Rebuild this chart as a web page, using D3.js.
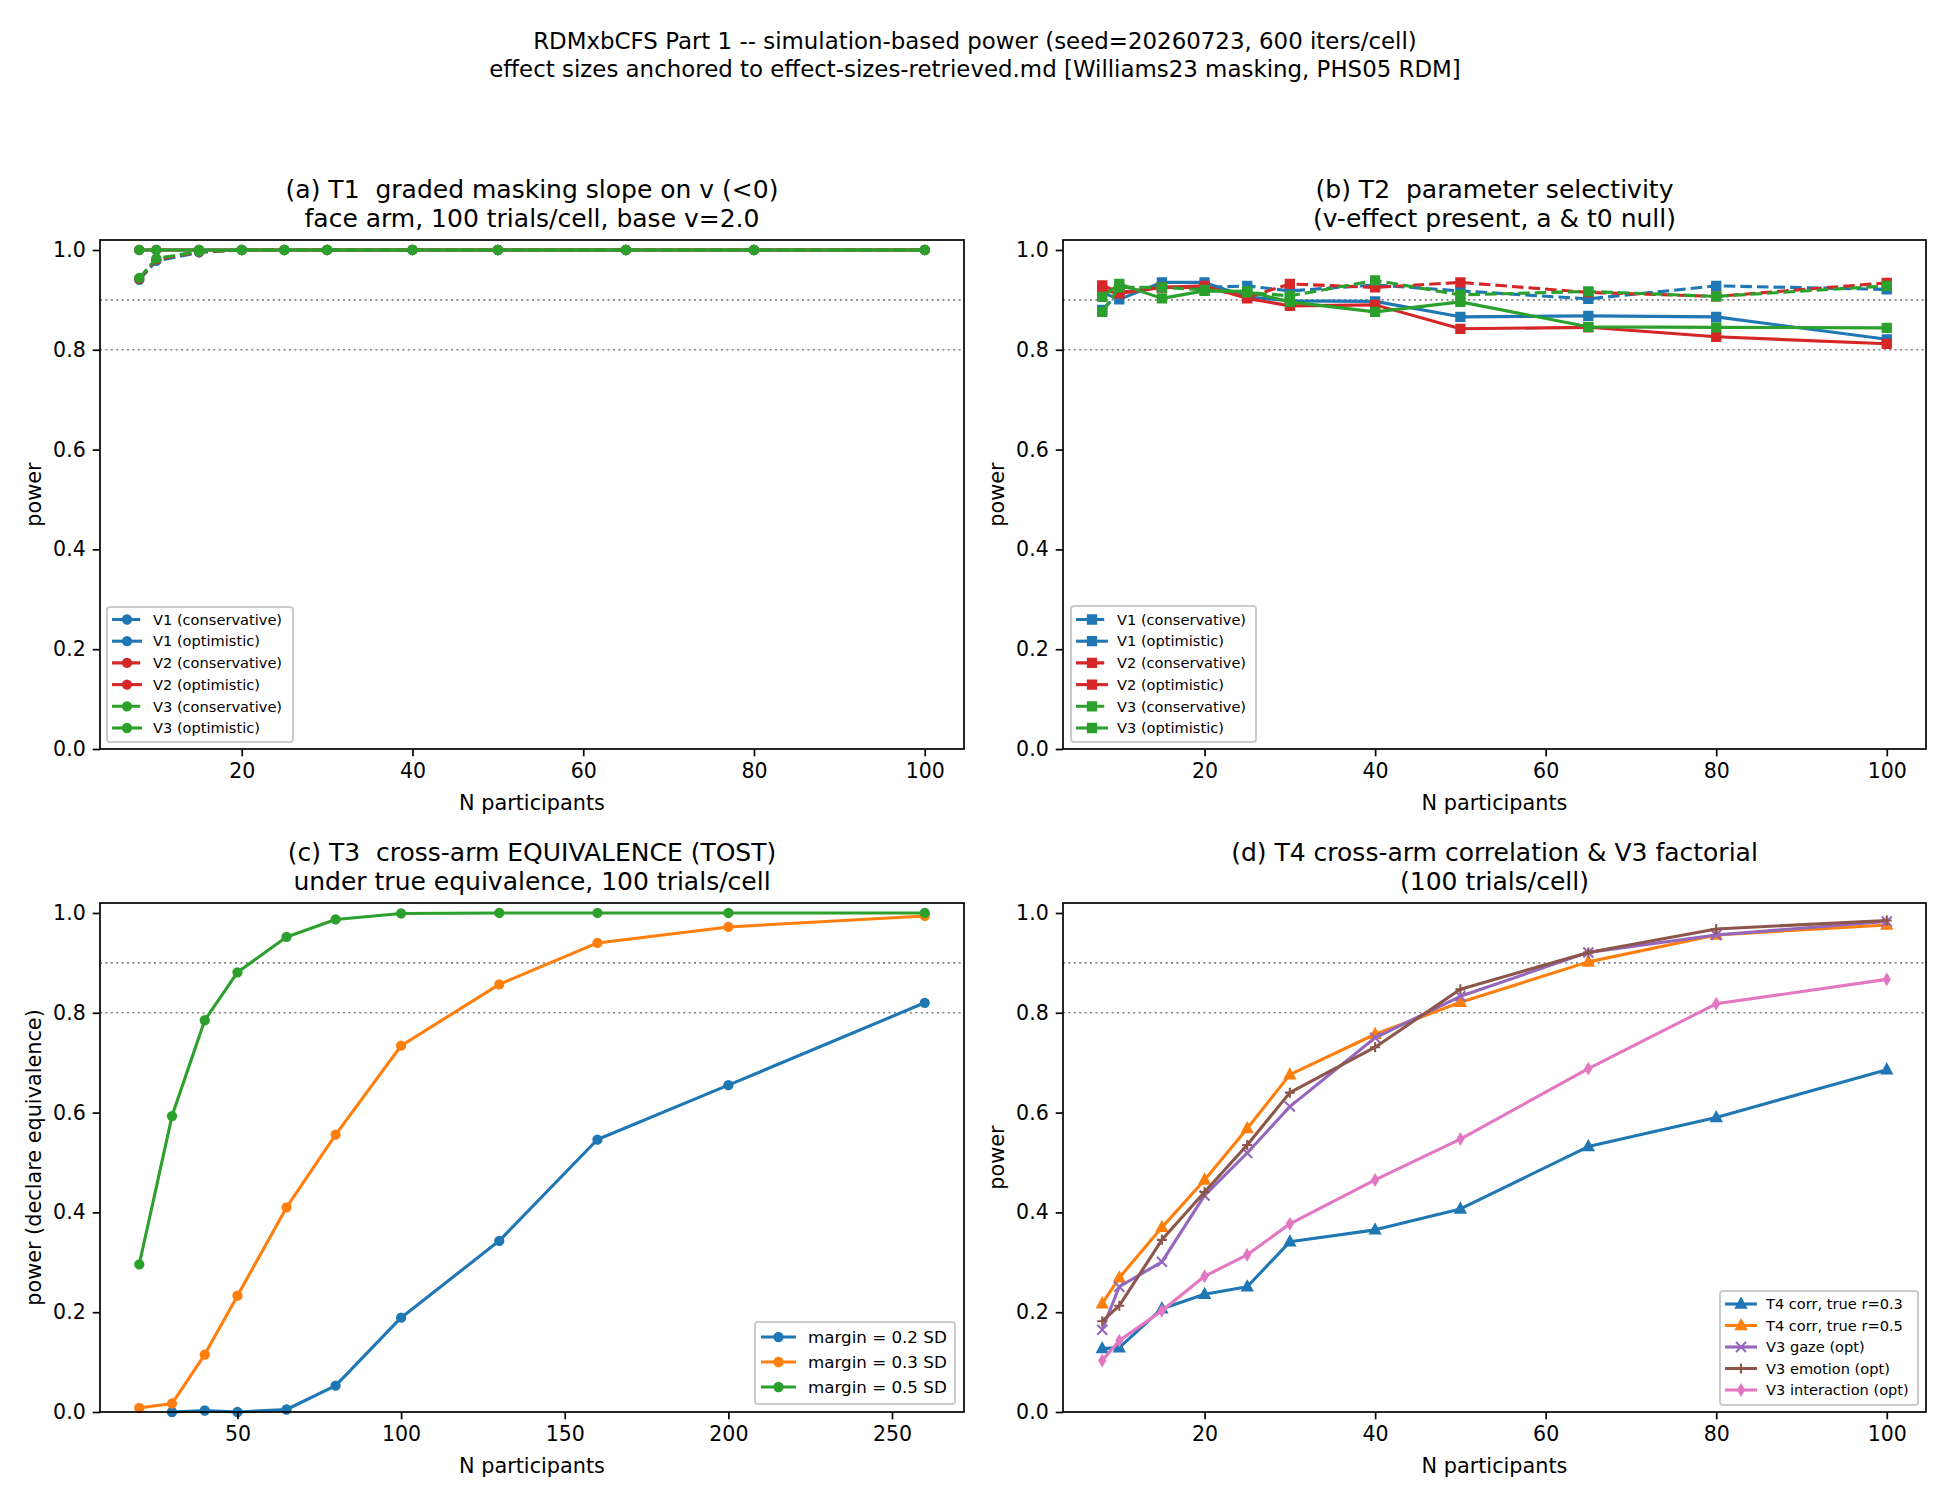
<!DOCTYPE html>
<html>
<head>
<meta charset="utf-8">
<title>RDMxbCFS power</title>
<style>
body { margin: 0; background: #fff; }
text { font-family: "DejaVu Sans", sans-serif; fill: #000; white-space: pre; }
</style>
</head>
<body>
<script src="https://cdn.jsdelivr.net/npm/d3@7"></script>
<script>
// ---- data ----
var nSmall = [8, 10, 15, 20, 25, 30, 40, 50, 65, 80, 100];
var nTost = [20, 30, 40, 50, 65, 80, 100, 130, 160, 200, 260];
var nTostBlue = [30, 40, 50, 65, 80, 100, 130, 160, 200, 260];

// (a) T1 graded masking slope
var aV1cons = [0.940, 0.978, 0.995, 1, 1, 1, 1, 1, 1, 1, 1];
var aV1opt  = [1, 1, 1, 1, 1, 1, 1, 1, 1, 1, 1];
var aV2cons = [0.942, 0.981, 0.996, 1, 1, 1, 1, 1, 1, 1, 1];
var aV2opt  = [1, 1, 1, 1, 1, 1, 1, 1, 1, 1, 1];
var aV3cons = [0.944, 0.983, 0.997, 1, 1, 1, 1, 1, 1, 1, 1];
var aV3opt  = [1, 1, 1, 1, 1, 1, 1, 1, 1, 1, 1];

// (b) T2 parameter selectivity
var bV1cons = [0.880, 0.915, 0.925, 0.925, 0.928, 0.918, 0.930, 0.918, 0.902, 0.928, 0.921];
var bV1opt  = [0.915, 0.901, 0.935, 0.935, 0.906, 0.898, 0.897, 0.866, 0.868, 0.866, 0.821];
var bV2cons = [0.929, 0.915, 0.925, 0.925, 0.905, 0.932, 0.925, 0.935, 0.915, 0.907, 0.934];
var bV2opt  = [0.920, 0.913, 0.925, 0.928, 0.903, 0.888, 0.890, 0.842, 0.845, 0.826, 0.812];
var bV3cons = [0.876, 0.925, 0.925, 0.920, 0.915, 0.908, 0.939, 0.910, 0.917, 0.907, 0.928];
var bV3opt  = [0.906, 0.932, 0.903, 0.918, 0.917, 0.896, 0.876, 0.896, 0.846, 0.845, 0.844];

// (c) T3 TOST equivalence
var cM02 = [0.000, 0.003, 0.000, 0.005, 0.053, 0.189, 0.343, 0.546, 0.655, 0.820];
var cM03 = [0.008, 0.017, 0.115, 0.233, 0.410, 0.556, 0.734, 0.857, 0.940, 0.972, 0.994];
var cM05 = [0.296, 0.593, 0.785, 0.881, 0.952, 0.987, 0.999, 1.000, 1.000, 1.000, 1.000];

// (d) T4 correlation & V3 factorial
var dT4r3   = [0.127, 0.129, 0.207, 0.236, 0.251, 0.341, 0.365, 0.407, 0.532, 0.590, 0.686];
var dT4r5   = [0.217, 0.269, 0.370, 0.465, 0.568, 0.676, 0.757, 0.821, 0.902, 0.956, 0.976];
var dGaze   = [0.165, 0.251, 0.301, 0.434, 0.519, 0.612, 0.750, 0.833, 0.921, 0.956, 0.983];
var dEmo    = [0.182, 0.213, 0.345, 0.441, 0.535, 0.640, 0.731, 0.847, 0.921, 0.968, 0.985];
var dInter  = [0.103, 0.143, 0.203, 0.272, 0.315, 0.377, 0.465, 0.547, 0.688, 0.818, 0.867];

var yTicks = [0, 0.2, 0.4, 0.6, 0.8, 1.0];
var xTicksN = [20, 40, 60, 80, 100];
var xTicksTost = [50, 100, 150, 200, 250];
var refLines = [0.8, 0.9];

var blue = "#1f77b4", orange = "#ff7f0e", green = "#2ca02c", red = "#d62728",
    purple = "#9467bd", brown = "#8c564b", pink = "#e377c2";

var svg = d3.select("body").append("svg")
    .attr("width", 1950).attr("height", 1500);

svg.append("text").attr("x", 975).attr("y", 49).attr("text-anchor", "middle")
    .style("font-size", "22.9px")
    .text("RDMxbCFS Part 1 -- simulation-based power (seed=20260723, 600 iters/cell)");
svg.append("text").attr("x", 975).attr("y", 77).attr("text-anchor", "middle")
    .style("font-size", "22.9px")
    .text("effect sizes anchored to effect-sizes-retrieved.md [Williams23 masking, PHS05 RDM]");

function markerPath(kind, s) {
    var h = s / 2;
    if (kind === "circle") return d3.symbol(d3.symbolCircle, Math.PI * h * h)();
    if (kind === "square") return "M" + -h + "," + -h + "H" + h + "V" + h + "H" + -h + "Z";
    if (kind === "tri") return "M0," + (-h * 1.1) + "L" + h + "," + (h * 0.75) + "L" + -h + "," + (h * 0.75) + "Z";
    if (kind === "x") return "M" + -h + "," + -h + "L" + h + "," + h + "M" + -h + "," + h + "L" + h + "," + -h;
    if (kind === "plus") return "M" + -h + ",0H" + h + "M0," + -h + "V" + h;
    if (kind === "dia") return "M0," + -h + "L" + (h * 0.6) + ",0L0," + h + "L" + (-h * 0.6) + ",0Z";
}

function drawMarker(g, kind, x, y, color, size) {
    var open = kind === "x" || kind === "plus";
    g.append("path")
        .attr("transform", "translate(" + x + "," + y + ")")
        .attr("d", markerPath(kind, size))
        .attr("fill", open ? "none" : color)
        .attr("stroke", color)
        .attr("stroke-width", open ? 2.1 : 2);
}

function panel(cfg) {
    var g = svg.append("g");
    var x = d3.scaleLinear().domain(cfg.xDomain).range([cfg.left, cfg.right]);
    var y = d3.scaleLinear().domain([0, 1.02]).range([cfg.bottom, cfg.top]);

    // reference lines
    refLines.forEach(function(v) {
        g.append("line")
            .attr("x1", cfg.left).attr("x2", cfg.right)
            .attr("y1", y(v)).attr("y2", y(v))
            .attr("stroke", "#808080").attr("stroke-width", 1.6)
            .attr("stroke-dasharray", "2,3.4");
    });

    var line = d3.line().x(function(d) { return x(d[0]); }).y(function(d) { return y(d[1]); });

    cfg.series.forEach(function(s) {
        var pts = s.n.map(function(n, i) { return [n, s.v[i]]; });
        g.append("path").attr("d", line(pts))
            .attr("fill", "none").attr("stroke", s.color).attr("stroke-width", 3.1)
            .attr("stroke-linejoin", "round")
            .attr("stroke-dasharray", s.dash ? "11.6,5" : null);
        pts.forEach(function(p) { drawMarker(g, s.marker, x(p[0]), y(p[1]), s.color, cfg.ms); });
    });

    // axes
    var xAxis = d3.axisBottom(x).tickValues(cfg.xTicks).tickSize(7.3).tickPadding(7).tickFormat(d3.format("d"));
    var yAxis = d3.axisLeft(y).tickValues(yTicks).tickSize(7.3).tickPadding(7).tickFormat(d3.format(".1f"));
    var ax = g.append("g").attr("transform", "translate(0," + cfg.bottom + ")").call(xAxis);
    var ay = g.append("g").attr("transform", "translate(" + cfg.left + ",0)").call(yAxis);
    [ax, ay].forEach(function(a) {
        a.select(".domain").remove();
        a.selectAll(".tick line").attr("stroke", "#000").attr("stroke-width", 1.7);
        a.selectAll(".tick text").style("font-size", "20.5px").attr("font-family", "DejaVu Sans").attr("fill", "#000");
    });

    g.append("rect")
        .attr("x", cfg.left).attr("y", cfg.top)
        .attr("width", cfg.right - cfg.left).attr("height", cfg.bottom - cfg.top)
        .attr("fill", "none").attr("stroke", "#000").attr("stroke-width", 1.7);

    // titles and labels
    var mid = (cfg.left + cfg.right) / 2;
    g.append("text").attr("x", mid).attr("y", cfg.top - 42).attr("text-anchor", "middle")
        .style("font-size", "25px").text(cfg.title[0]);
    g.append("text").attr("x", mid).attr("y", cfg.top - 13).attr("text-anchor", "middle")
        .style("font-size", "25px").text(cfg.title[1]);
    g.append("text").attr("x", mid).attr("y", cfg.bottom + 61).attr("text-anchor", "middle")
        .style("font-size", "20.8px").text("N participants");
    g.append("text")
        .attr("transform", "translate(" + (cfg.left - 59) + "," + ((cfg.top + cfg.bottom) / 2) + ") rotate(-90)")
        .attr("text-anchor", "middle").style("font-size", "20.8px").text(cfg.ylabel);

    // legend
    var L = cfg.legend;
    g.append("rect").attr("x", L.x).attr("y", L.y).attr("width", L.w).attr("height", L.h)
        .attr("rx", 3).attr("fill", "#fff").attr("fill-opacity", 0.8)
        .attr("stroke", "#cccccc").attr("stroke-width", 2);
    cfg.series.forEach(function(s, i) {
        var cy = L.y0 + i * L.dy;
        g.append("line").attr("x1", L.h0).attr("x2", L.h1).attr("y1", cy).attr("y2", cy)
            .attr("stroke", s.color).attr("stroke-width", 3.1)
            .attr("stroke-dasharray", s.dash ? "11.6,5" : null);
        drawMarker(g, s.marker, (L.h0 + L.h1) / 2, cy, s.color, cfg.ms);
        g.append("text").attr("x", L.tx).attr("y", cy + L.fs * 0.36)
            .style("font-size", L.fs + "px").text(s.label);
    });
}

var smallDomain = [3.4, 104.6];

panel({
    left: 100, right: 964, top: 240, bottom: 749,
    xDomain: smallDomain, xTicks: xTicksN, ms: 8.3,
    title: ["(a) T1  graded masking slope on v (<0)", "face arm, 100 trials/cell, base v=2.0"],
    ylabel: "power",
    series: [
        {n: nSmall, v: aV1cons, color: blue, dash: true, marker: "circle", label: "V1 (conservative)"},
        {n: nSmall, v: aV1opt, color: blue, dash: false, marker: "circle", label: "V1 (optimistic)"},
        {n: nSmall, v: aV2cons, color: red, dash: true, marker: "circle", label: "V2 (conservative)"},
        {n: nSmall, v: aV2opt, color: red, dash: false, marker: "circle", label: "V2 (optimistic)"},
        {n: nSmall, v: aV3cons, color: green, dash: true, marker: "circle", label: "V3 (conservative)"},
        {n: nSmall, v: aV3opt, color: green, dash: false, marker: "circle", label: "V3 (optimistic)"}
    ],
    legend: {x: 107, y: 607, w: 186, h: 135, y0: 619.5, dy: 21.7, h0: 112, h1: 142, tx: 153, fs: 14.6}
});

panel({
    left: 1063, right: 1926, top: 240, bottom: 749,
    xDomain: smallDomain, xTicks: xTicksN, ms: 8.3,
    title: ["(b) T2  parameter selectivity", "(v-effect present, a & t0 null)"],
    ylabel: "power",
    series: [
        {n: nSmall, v: bV1cons, color: blue, dash: true, marker: "square", label: "V1 (conservative)"},
        {n: nSmall, v: bV1opt, color: blue, dash: false, marker: "square", label: "V1 (optimistic)"},
        {n: nSmall, v: bV2cons, color: red, dash: true, marker: "square", label: "V2 (conservative)"},
        {n: nSmall, v: bV2opt, color: red, dash: false, marker: "square", label: "V2 (optimistic)"},
        {n: nSmall, v: bV3cons, color: green, dash: true, marker: "square", label: "V3 (conservative)"},
        {n: nSmall, v: bV3opt, color: green, dash: false, marker: "square", label: "V3 (optimistic)"}
    ],
    legend: {x: 1071, y: 606, w: 185, h: 136, y0: 619.5, dy: 21.7, h0: 1076, h1: 1108, tx: 1117, fs: 14.6}
});

panel({
    left: 100, right: 964, top: 903, bottom: 1412,
    xDomain: [8, 272], xTicks: xTicksTost, ms: 8.3,
    title: ["(c) T3  cross-arm EQUIVALENCE (TOST)", "under true equivalence, 100 trials/cell"],
    ylabel: "power (declare equivalence)",
    series: [
        {n: nTostBlue, v: cM02, color: blue, dash: false, marker: "circle", label: "margin = 0.2 SD"},
        {n: nTost, v: cM03, color: orange, dash: false, marker: "circle", label: "margin = 0.3 SD"},
        {n: nTost, v: cM05, color: green, dash: false, marker: "circle", label: "margin = 0.5 SD"}
    ],
    legend: {x: 755, y: 1322, w: 200, h: 82, y0: 1337, dy: 25, h0: 761, h1: 796, tx: 808, fs: 16.7}
});

panel({
    left: 1063, right: 1926, top: 903, bottom: 1412,
    xDomain: smallDomain, xTicks: xTicksN, ms: 10,
    title: ["(d) T4 cross-arm correlation & V3 factorial", "(100 trials/cell)"],
    ylabel: "power",
    series: [
        {n: nSmall, v: dT4r3, color: blue, dash: false, marker: "tri", label: "T4 corr, true r=0.3"},
        {n: nSmall, v: dT4r5, color: orange, dash: false, marker: "tri", label: "T4 corr, true r=0.5"},
        {n: nSmall, v: dGaze, color: purple, dash: false, marker: "x", label: "V3 gaze (opt)"},
        {n: nSmall, v: dEmo, color: brown, dash: false, marker: "plus", label: "V3 emotion (opt)"},
        {n: nSmall, v: dInter, color: pink, dash: false, marker: "dia", label: "V3 interaction (opt)"}
    ],
    legend: {x: 1720, y: 1291, w: 198, h: 114, y0: 1304, dy: 21.5, h0: 1725, h1: 1757, tx: 1766, fs: 14.6}
});
</script>
</body>
</html>
